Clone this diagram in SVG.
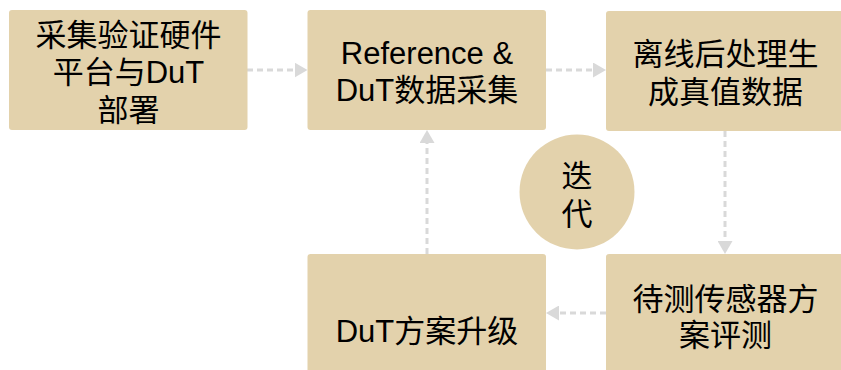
<svg xmlns="http://www.w3.org/2000/svg" width="841" height="370" viewBox="0 0 841 370">
  <style>
    .box { fill: #e3d2ac; }
    .t { font-family: "Liberation Sans", "Noto Sans CJK SC", sans-serif; font-size: 31px; fill: #000; text-anchor: middle; }
    .c { stroke: #d9d9d9; stroke-width: 3; stroke-dasharray: 6 4; fill: none; }
  </style>
  <defs>
    <marker id="ah" viewBox="0 0 13 15" refX="7" refY="7.5" markerWidth="13" markerHeight="15" markerUnits="userSpaceOnUse" orient="auto">
      <path d="M0,0 L13,7.5 L0,15 z" fill="#d9d9d9"/>
    </marker>
  </defs>
  <rect width="841" height="370" fill="#ffffff"/>

  <g id="connectors">
    <line class="c" x1="247" y1="70" x2="301.5" y2="70" marker-end="url(#ah)"/>
    <line class="c" x1="546" y1="70" x2="600" y2="70" marker-end="url(#ah)"/>
    <line class="c" x1="725" y1="131" x2="725" y2="248" marker-end="url(#ah)"/>
    <line class="c" x1="606" y1="313" x2="552" y2="313" marker-end="url(#ah)"/>
    <line class="c" x1="427" y1="254" x2="427" y2="136" marker-end="url(#ah)"/>
  </g>

  <g id="node-hw">
    <rect class="box" x="9" y="10" width="238.5" height="120" rx="3"/>
    <text class="t" x="128.5" y="46">采集验证硬件</text>
    <text class="t" x="128.5" y="83">平台与DuT</text>
    <text class="t" x="128.5" y="121">部署</text>
  </g>

  <g id="node-collect">
    <rect class="box" x="307.5" y="10" width="238.5" height="120" rx="3"/>
    <text class="t" x="427" y="63.5">Reference &amp;</text>
    <text class="t" x="427" y="101">DuT数据采集</text>
  </g>

  <g id="node-truth">
    <rect class="box" x="606" y="11" width="239" height="120" rx="3"/>
    <text class="t" x="725.5" y="64.5">离线后处理生</text>
    <text class="t" x="725.5" y="103">成真值数据</text>
  </g>

  <g id="node-eval">
    <rect class="box" x="606" y="254" width="239" height="120" rx="3"/>
    <text class="t" x="725.5" y="309.5">待测传感器方</text>
    <text class="t" x="725.5" y="346">案评测</text>
  </g>

  <g id="node-upgrade">
    <rect class="box" x="307.5" y="254" width="238.5" height="120" rx="3"/>
    <text class="t" x="427" y="342">DuT方案升级</text>
  </g>

  <g id="node-iterate">
    <circle class="box" cx="577" cy="192" r="57.5"/>
    <text class="t" x="577" y="187">迭</text>
    <text class="t" x="577" y="224.5">代</text>
  </g>
</svg>
